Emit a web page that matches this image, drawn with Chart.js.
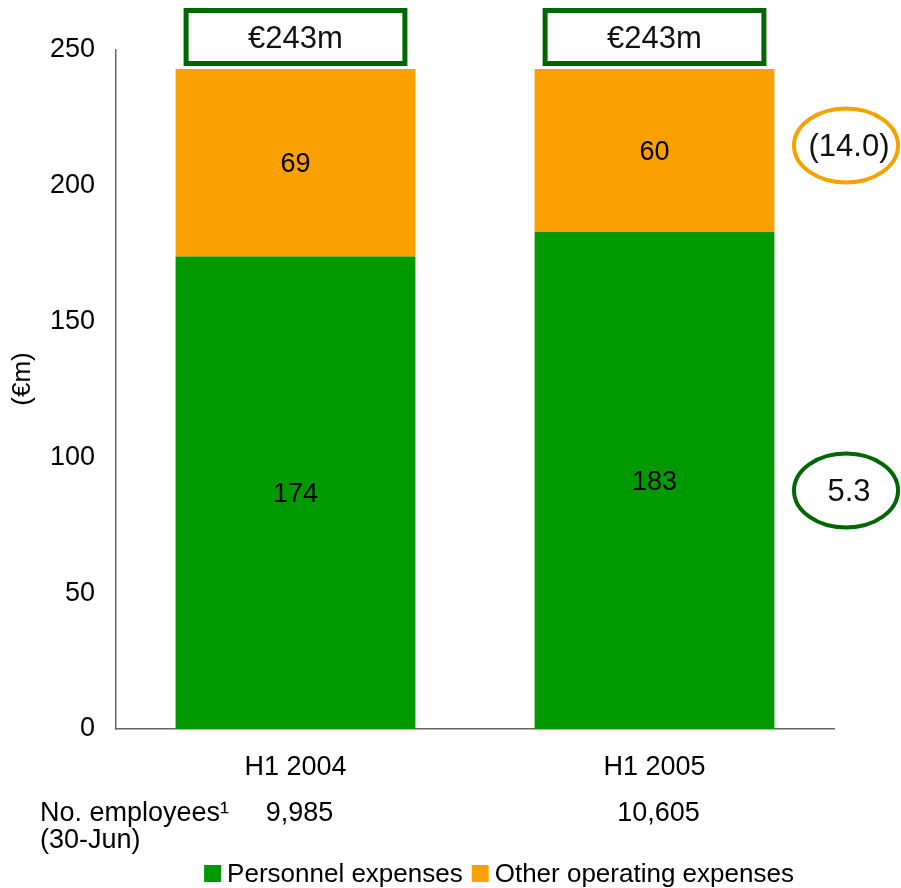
<!DOCTYPE html>
<html><head><meta charset="utf-8">
<script src="https://cdn.jsdelivr.net/npm/chart.js@4/dist/chart.umd.min.js"></script>
<style>html,body{margin:0;padding:0;background:#fff}canvas{display:block}</style>
</head><body>
<canvas id="c" width="901" height="888"></canvas>
<script>
const categories = ['H1 2004', 'H1 2005'];
const personnelExpenses = [174, 183];
const otherOperatingExpenses = [69, 60];
const totalLabels = ['€243m', '€243m'];
const employeeCounts = ['9,985', '10,605'];
const changeLabels = ['5.3', '(14.0)'];
const yTickValues = [0, 50, 100, 150, 200, 250];
const seriesNames = ['Personnel expenses', 'Other operating expenses'];
const axisTitle = '(€m)';
const employeeRowLabel = ['No. employees¹', '(30-Jun)'];

const GREEN = '#009900', ORANGE = '#FAA000', DARKGREEN = '#006600';
const FONT = '"Liberation Sans", Arial, sans-serif';
const seriesColors = [GREEN, ORANGE];
const ellipseColors = [DARKGREEN, '#F5A200'];

const overlay = {
  id: 'overlay',
  afterDatasetsDraw(chart) {
    const ctx = chart.ctx;
    const ys = chart.scales.y;
    const ca = chart.chartArea;
    ctx.save();
    // segment value labels
    ctx.fillStyle = '#000';
    ctx.font = '27px ' + FONT;
    ctx.textAlign = 'center';
    ctx.textBaseline = 'alphabetic';
    chart.data.datasets.forEach((ds, di) => {
      chart.getDatasetMeta(di).data.forEach((el, i) => {
        const mid = (el.y + el.base) / 2;
        ctx.fillText(String(ds.data[i]), el.x, mid + 9.5);
      });
    });
    // total boxes
    chart.getDatasetMeta(1).data.forEach((el, i) => {
      const total = personnelExpenses[i] + otherOperatingExpenses[i];
      const yTop = ys.getPixelForValue(total);
      const w = el.width;
      const bx = el.x - w / 2 + 10.5, bw = w - 21, bh = 53;
      const by = yTop - 5.5 - bh;
      ctx.lineWidth = 5;
      ctx.strokeStyle = DARKGREEN;
      ctx.fillStyle = '#fff';
      ctx.fillRect(bx, by, bw, bh);
      ctx.strokeRect(bx, by, bw, bh);
      ctx.fillStyle = '#111';
      ctx.font = '31px ' + FONT;
      ctx.fillText(totalLabels[i], el.x, by + bh / 2 + 11);
    });
    // change ellipses next to last bar
    const last = categories.length - 1;
    const offsets = [10, -5];
    chart.data.datasets.forEach((ds, di) => {
      const el = chart.getDatasetMeta(di).data[last];
      const cy = (el.y + el.base) / 2 + offsets[di];
      const cx = ca.right + 12;
      ctx.beginPath();
      ctx.ellipse(cx, cy, 52, 37, 0, 0, Math.PI * 2);
      ctx.lineWidth = 4;
      ctx.strokeStyle = ellipseColors[di];
      ctx.stroke();
      ctx.fillStyle = '#111';
      ctx.font = '31px ' + FONT;
      ctx.fillText(changeLabels[di], cx + 3, cy + 11);
    });
    ctx.restore();
  },
  afterDraw(chart) {
    const ctx = chart.ctx;
    const xs = chart.scales.x;
    ctx.save();
    ctx.fillStyle = '#000';
    // axis title
    ctx.save();
    ctx.translate(23, 379);
    ctx.rotate(-Math.PI / 2);
    ctx.font = '26px ' + FONT;
    ctx.textAlign = 'center';
    ctx.textBaseline = 'middle';
    ctx.fillText(axisTitle, 0, 0);
    ctx.restore();
    // employee row
    ctx.font = '27px ' + FONT;
    ctx.textAlign = 'left';
    ctx.textBaseline = 'alphabetic';
    ctx.fillText(employeeRowLabel[0], 40, 821);
    ctx.fillText(employeeRowLabel[1], 40, 848);
    ctx.textAlign = 'center';
    employeeCounts.forEach((v, i) => {
      ctx.fillText(v, xs.getPixelForValue(i) + 4, 821);
    });
    // legend
    ctx.font = '26px ' + FONT;
    ctx.textAlign = 'left';
    const box = 17, gap = 6, itemGap = 9;
    const widths = seriesNames.map(s => ctx.measureText(s).width);
    const total = widths.reduce((a, w) => a + box + gap + w, 0) + itemGap * (seriesNames.length - 1);
    let x = 499 - total / 2;
    seriesNames.forEach((s, i) => {
      ctx.fillStyle = seriesColors[i];
      ctx.fillRect(x, 865, box, box);
      ctx.fillStyle = '#000';
      ctx.fillText(s, x + box + gap, 882);
      x += box + gap + widths[i] + itemGap;
    });
    ctx.restore();
  }
};

new Chart(document.getElementById('c'), {
  type: 'bar',
  data: {
    labels: categories,
    datasets: [
      { label: seriesNames[0], data: personnelExpenses, backgroundColor: GREEN, borderWidth: 0 },
      { label: seriesNames[1], data: otherOperatingExpenses, backgroundColor: ORANGE, borderWidth: 0 }
    ]
  },
  options: {
    responsive: false,
    animation: false,
    devicePixelRatio: 1,
    layout: { padding: { left: 0, right: 67, top: 50, bottom: 99 } },
    plugins: { legend: { display: false }, tooltip: { enabled: false } },
    datasets: { bar: { categoryPercentage: 1, barPercentage: 0.668 } },
    scales: {
      x: {
        stacked: true,
        grid: { display: false, drawTicks: false },
        border: { display: true, color: '#666', width: 1.5 },
        ticks: { color: '#000', font: { family: FONT, size: 27 }, padding: 22 },
        afterFit(s) { s.height = 60; }
      },
      y: {
        stacked: true,
        min: 0, max: 250,
        afterBuildTicks(s) { s.ticks = yTickValues.map(v => ({ value: v })); },
        grid: { display: false, drawTicks: false },
        border: { display: true, color: '#666', width: 1.5 },
        ticks: { color: '#000', font: { family: FONT, size: 27 }, padding: 21 },
        afterFit(s) { s.width = 116; }
      }
    }
  },
  plugins: [overlay]
});
</script>
</body></html>
